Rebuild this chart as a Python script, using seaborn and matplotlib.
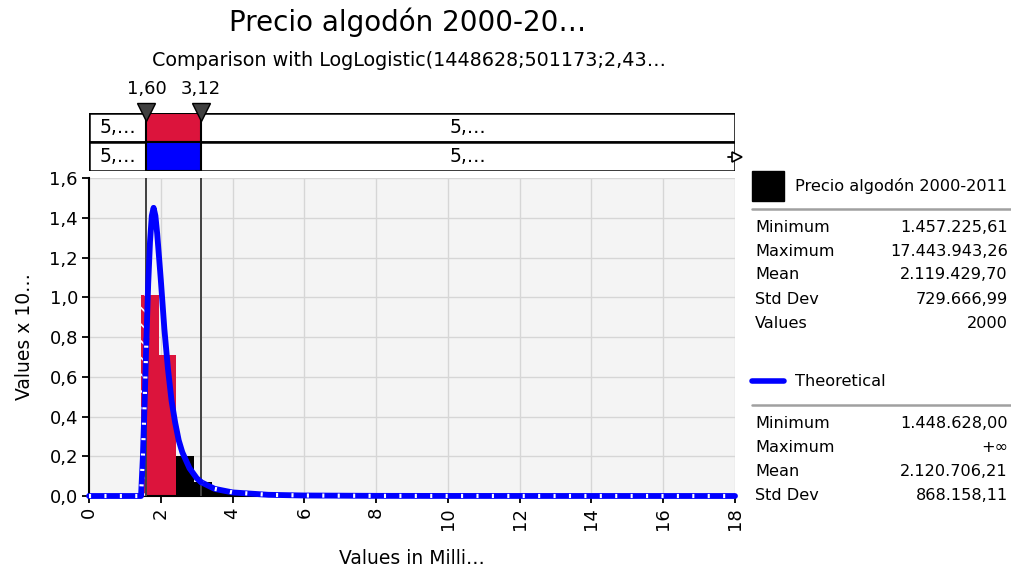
import numpy as np
import pandas as pd
import matplotlib
matplotlib.use("Agg")
import matplotlib.pyplot as plt
from matplotlib.patches import Rectangle
from matplotlib.lines import Line2D
import seaborn as sns

# values (x in millions, y in 1e-6)
bin_edges = [1.457, 1.947, 2.437, 2.927, 3.417, 3.907, 4.397, 4.887, 5.377, 5.867, 6.357]
bin_heights = [1.01, 0.71, 0.20, 0.07, 0.028, 0.012, 0.007, 0.004, 0.003, 0.002]
red_bins = 2

curve_x = [0.0, 1.45, 1.50, 1.55, 1.60, 1.65, 1.70, 1.75, 1.80, 1.85, 1.90, 2.00,
           2.10, 2.20, 2.30, 2.40, 2.50, 2.60, 2.80, 3.00, 3.12, 3.50, 4.00, 5.00,
           6.00, 8.00, 10.0, 18.0]
curve_y = [0.0, 0.0, 0.19, 0.47, 0.79, 1.07, 1.28, 1.41, 1.45, 1.41, 1.32, 1.09,
           0.84, 0.64, 0.48, 0.37, 0.28, 0.22, 0.14, 0.09, 0.07, 0.036, 0.018, 0.006,
           0.0025, 0.0007, 0.0003, 0.0]

delims = [1.60, 3.12]
delim_labels = ["1,60", "3,12"]
band_text = "5,…"

x_ticks = [0, 2, 4, 6, 8, 10, 12, 14, 16, 18]
y_ticks = [0.0, 0.2, 0.4, 0.6, 0.8, 1.0, 1.2, 1.4, 1.6]
y_tick_labels = ["0,0", "0,2", "0,4", "0,6", "0,8", "1,0", "1,2", "1,4", "1,6"]

data_name = "Precio algodón 2000-2011"
data_stats = ["Minimum", "Maximum", "Mean", "Std Dev", "Values"]
data_vals = ["1.457.225,61", "17.443.943,26", "2.119.429,70", "729.666,99", "2000"]
theo_name = "Theoretical"
theo_stats = ["Minimum", "Maximum", "Mean", "Std Dev"]
theo_vals = ["1.448.628,00", "+∞", "2.120.706,21", "868.158,11"]

RED = "#dc143c"
BLUE = "#0000ff"
DARK = "#404040"

sns.set_style("white")
plt.rcParams["font.family"] = ["DejaVu Sans"]
plt.rcParams["hatch.linewidth"] = 1.2
for k in ["text.color", "axes.labelcolor", "xtick.color", "ytick.color"]:
    plt.rcParams[k] = "black"

W, H = 1012, 571
fig = plt.figure(figsize=(W / 100, H / 100), dpi=100)

def fx(px):
    return px / W

def fy(py):
    return 1 - py / H

ax = fig.add_axes([fx(89), fy(496), fx(735) - fx(89), fy(178) - fy(496)])
ax.set_facecolor("#f4f4f4")

centers = [(a + b) / 2 for a, b in zip(bin_edges[:-1], bin_edges[1:])]
hist = pd.DataFrame({"x": centers, "h": bin_heights})
sns.histplot(data=hist.iloc[:red_bins], x="x", weights="h", bins=bin_edges,
             color=RED, alpha=1, linewidth=0, ax=ax, zorder=2)
sns.histplot(data=hist.iloc[red_bins:], x="x", weights="h", bins=bin_edges,
             color="black", alpha=1, linewidth=0, ax=ax, zorder=2)
# part of the first bar left of the lower delimiter
ax.bar(bin_edges[0], bin_heights[0], width=delims[0] - bin_edges[0], align="edge",
       color=RED, hatch="\\\\", edgecolor="white", linewidth=0, zorder=3)

for d in delims:
    ax.axvline(d, color=DARK, lw=1.4, zorder=4)

curve = pd.DataFrame({"x": curve_x, "y": curve_y})
inside = curve[(curve.x >= delims[0]) & (curve.x <= delims[1])]
left = curve[curve.x <= delims[0]]
right = curve[curve.x >= delims[1]]
sns.lineplot(data=inside, x="x", y="y", color=BLUE, lw=4.2, sort=False,
             estimator=None, ax=ax, zorder=6, solid_capstyle="round")
for part in (left, right):
    sns.lineplot(data=part, x="x", y="y", color=BLUE, lw=4.2, sort=False,
                 estimator=None, ax=ax, zorder=5, clip_on=False)
    ax.plot(part.x, part.y, color="white", lw=3, dashes=(0.5, 3.2),
            zorder=5.5, clip_on=False)

ax.set_xlim(0, 18)
ax.set_ylim(0, 1.6)
ax.set_xticks(x_ticks)
ax.set_xticklabels([str(t) for t in x_ticks], rotation=90)
ax.set_yticks(y_ticks)
ax.set_yticklabels(y_tick_labels)
ax.grid(True, color="#d6d6d6", lw=1)
ax.set_axisbelow(True)
ax.tick_params(axis="both", labelsize=13, length=5, width=1.3, color="black",
               direction="out", bottom=True, left=True, pad=3)
for s in ["top", "right"]:
    ax.spines[s].set_visible(False)
for s in ["left", "bottom"]:
    ax.spines[s].set_color("black")
    ax.spines[s].set_linewidth(1.5)
ax.set_xlabel("Values in Milli…", fontsize=13.5, labelpad=14)
ax.set_ylabel("Values x 10…", fontsize=13.5, labelpad=11)

# delimiter band above the plot
band = fig.add_axes([fx(89), fy(171), fx(735) - fx(89), fy(113) - fy(171)])
band.set_xlim(0, 18)
band.set_ylim(0, 2)
band.axis("off")
for row, col in ((1, RED), (0, BLUE)):
    band.add_patch(Rectangle((0, row), 18, 1, facecolor="white",
                             edgecolor="black", lw=1.8))
    band.add_patch(Rectangle((delims[0], row), delims[1] - delims[0], 1,
                             facecolor=col, edgecolor="black", lw=1.5))
    band.text(delims[0] / 2, row + 0.5, band_text, ha="center", va="center",
              fontsize=13.5)
    band.text((delims[1] + 18) / 2, row + 0.5, band_text, ha="center",
              va="center", fontsize=13.5)
band.plot(delims, [2.05, 2.05], ls="none", marker="v", ms=13,
          mfc=DARK, mec="black", mew=1, clip_on=False)
for d, lab in zip(delims, delim_labels):
    band.text(d, 2.5, lab, ha="center", va="bottom", fontsize=13)
band.plot([17.8, 17.98], [0.5, 0.5], color="black", lw=1.3, clip_on=False)
band.plot([18.05], [0.5], ls="none", marker=">", ms=7, mfc="white",
          mec="black", mew=1.2, clip_on=False)

fig.text(fx(408), fy(22), "Precio algodón 2000-20…", ha="center", va="center",
         fontsize=20)
fig.text(fx(409), fy(60), "Comparison with LogLogistic(1448628;501173;2,43…",
         ha="center", va="center", fontsize=13.8)

# stats panel on the right
fs = 11.6
fig.add_artist(Rectangle((fx(752), fy(201)), fx(784) - fx(752), fy(171) - fy(201),
                         transform=fig.transFigure, color="black"))
fig.text(fx(795), fy(186), data_name, va="center", fontsize=fs)
fig.add_artist(Line2D([fx(752), fx(1012)], [fy(209), fy(209)],
                      transform=fig.transFigure, color="#a0a0a0", lw=1.8))
for i, (k, v) in enumerate(zip(data_stats, data_vals)):
    y = fy(227 + 24 * i)
    fig.text(fx(755), y, k, va="center", fontsize=fs)
    fig.text(fx(1008), y, v, va="center", ha="right", fontsize=fs)

fig.add_artist(Line2D([fx(752), fx(784)], [fy(381), fy(381)],
                      transform=fig.transFigure, color=BLUE, lw=4))
fig.text(fx(795), fy(381), theo_name, va="center", fontsize=fs)
fig.add_artist(Line2D([fx(752), fx(1012)], [fy(405), fy(405)],
                      transform=fig.transFigure, color="#a0a0a0", lw=1.8))
for i, (k, v) in enumerate(zip(theo_stats, theo_vals)):
    y = fy(423 + 24 * i)
    fig.text(fx(755), y, k, va="center", fontsize=fs)
    fig.text(fx(1008), y, v, va="center", ha="right", fontsize=fs)

fig.savefig("out.png", dpi=100)
